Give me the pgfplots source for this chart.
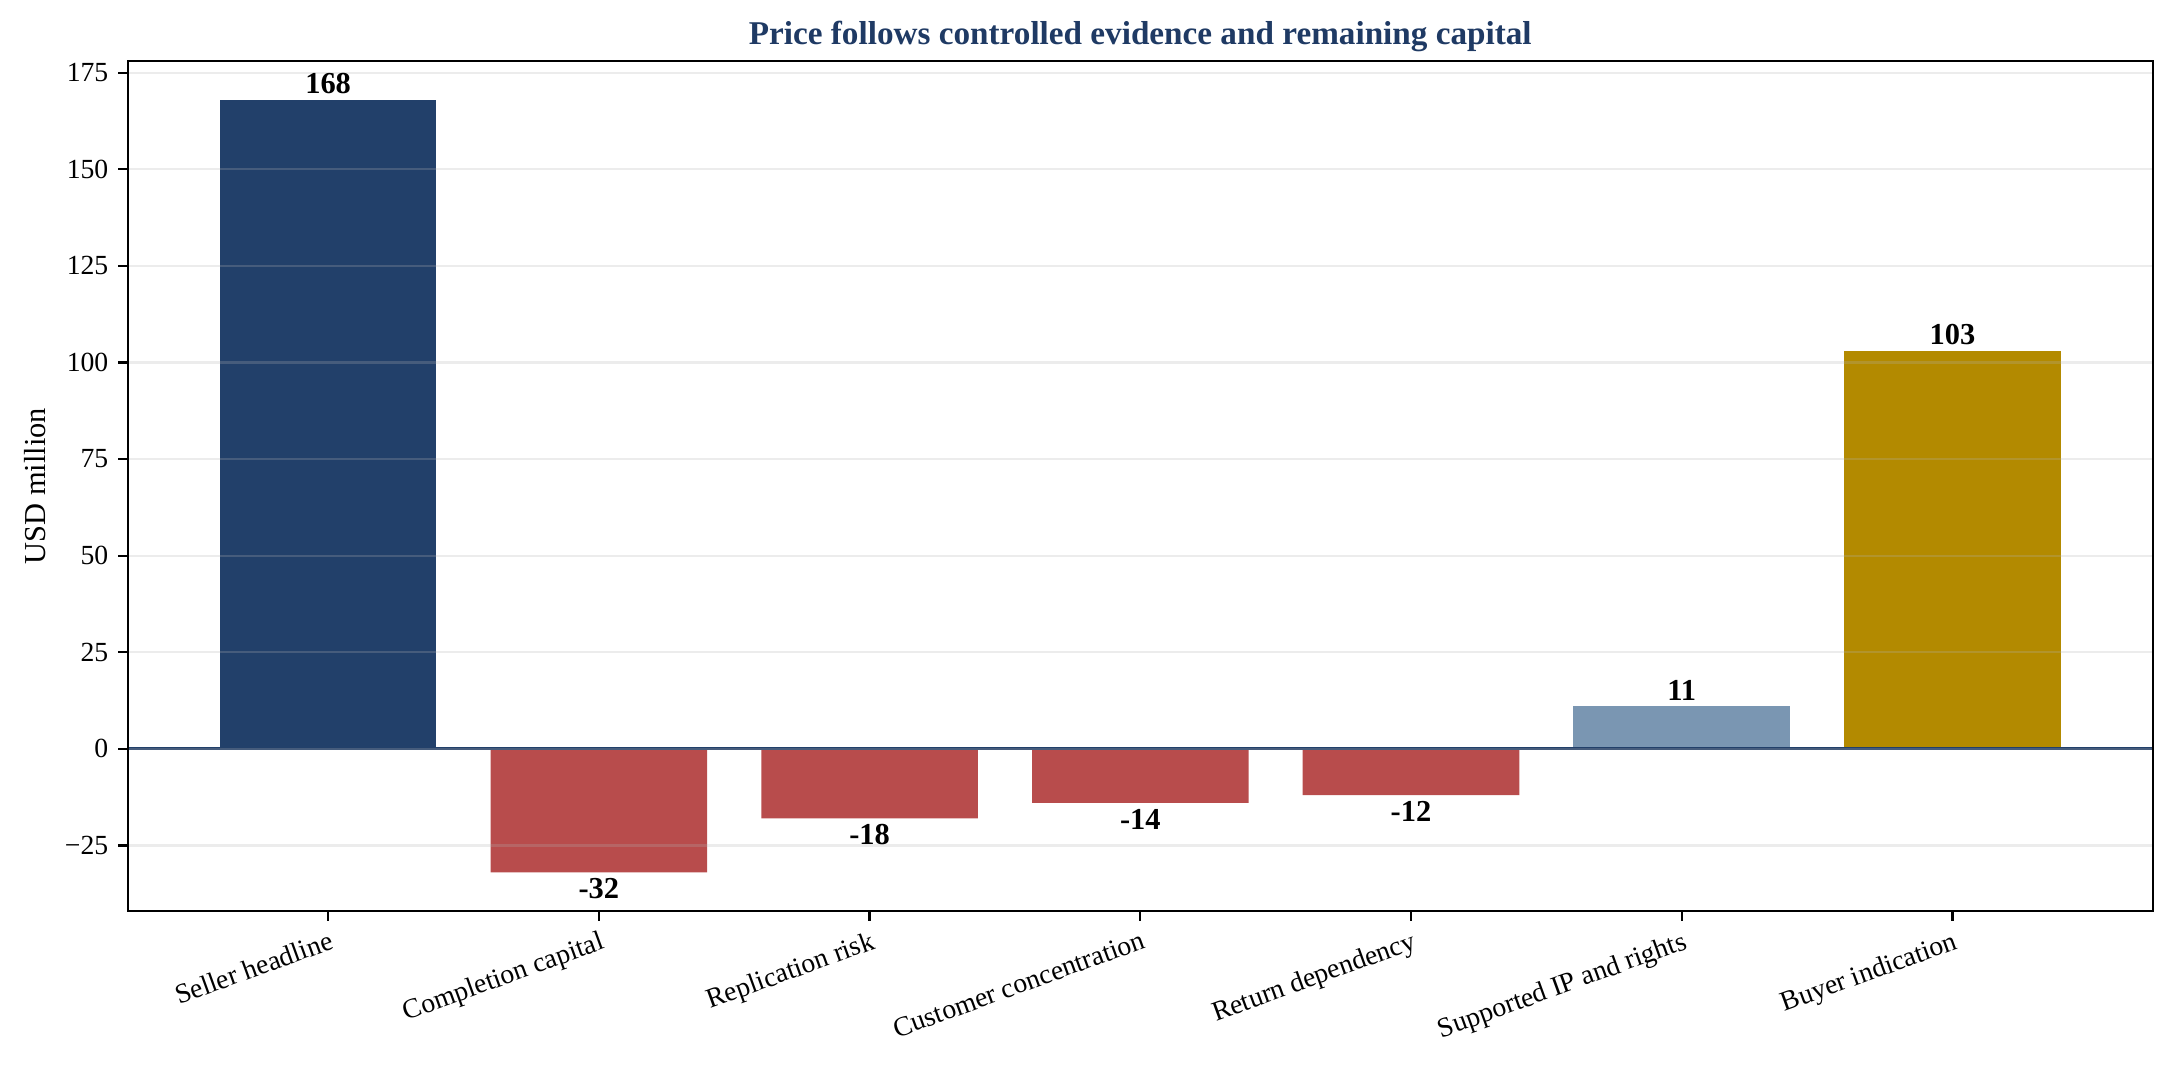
\documentclass[border=0pt]{standalone}
\usepackage{pgfplots}
\pgfplotsset{compat=1.18}
\usepackage{fontspec}
\setmainfont{Liberation Serif}
\definecolor{navy}{HTML}{22406A}
\definecolor{redbar}{HTML}{B84C4C}
\definecolor{steel}{HTML}{7A96B2}
\definecolor{gold}{HTML}{B38A00}
\definecolor{titleblue}{HTML}{1F3A64}
\begin{document}
\begin{tikzpicture}
\useasboundingbox (-46bp,-57.6bp) rectangle (737bp,328bp);
\begin{axis}[
  at={(0,0)}, anchor=south west,
  scale only axis, width=729bp, height=306bp,
  xmin=-0.74, xmax=6.74, ymin=-42, ymax=178,
  xtick={0,1,2,3,4,5,6},
  xticklabels={Seller headline,Completion capital,Replication risk,Customer concentration,Return dependency,Supported IP and rights,Buyer indication},
  xticklabel style={rotate=20, anchor=north east, font=\fontsize{10}{12}\selectfont, inner sep=0pt, yshift=-3bp, xshift=-1bp},
  ytick={-25,0,25,50,75,100,125,150,175},
  yticklabels={−25,0,25,50,75,100,125,150,175},
  yticklabel style={font=\fontsize{10}{12}\selectfont},
  tick align=outside, major tick length=3.5bp,
  tick style={black, line width=0.8bp},
  xtick pos=bottom, ytick pos=left,
  axis line style={black, line width=0.8bp},
  ymajorgrids, grid style={color=black!30, opacity=0.25, line width=0.8bp},
  ylabel={USD million}, ylabel style={font=\fontsize{11}{13}\selectfont, at={(ticklabel cs:0.5)}, anchor=south, yshift=0bp},
  title={Price follows controlled evidence and remaining capital},
  title style={font=\bfseries\fontsize{12}{14}\selectfont, color=titleblue, anchor=base, yshift=0bp},
  nodes near coords={\pgfmathprintnumber[assume math mode=true]{\pgfplotspointmeta}},
  nodes near coords style={font=\bfseries\fontsize{11}{13}\selectfont, black, inner sep=2bp},
  axis on top,
]
\addplot[ybar, bar width=0.8, bar shift=0pt, fill=navy, draw=none] coordinates {(0,168)};
\addplot[ybar, bar width=0.8, bar shift=0pt, fill=redbar, draw=none] coordinates {(1,-32) (2,-18) (3,-14) (4,-12)};
\addplot[ybar, bar width=0.8, bar shift=0pt, fill=steel, draw=none] coordinates {(5,11)};
\addplot[ybar, bar width=0.8, bar shift=0pt, fill=gold, draw=none] coordinates {(6,103)};
\draw[navy, line width=1bp] (axis cs:-0.74,0) -- (axis cs:6.74,0);
\end{axis}
\end{tikzpicture}
\end{document}
